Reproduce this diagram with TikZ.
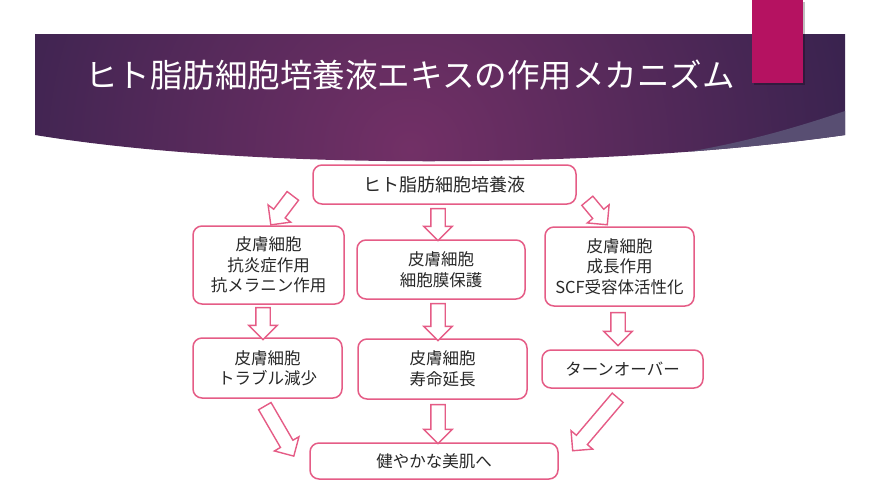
\documentclass[tikz,border=0pt]{standalone}
\usepackage{fontspec}
\setmainfont{Noto Sans CJK JP}
\usetikzlibrary{shapes.arrows,calc}

\definecolor{boxpink}{RGB}{229,92,134}
\definecolor{bandinner}{RGB}{114,48,102}
\definecolor{bandouter}{RGB}{36,30,70}
\definecolor{sliverpurple}{RGB}{88,78,114}
\definecolor{tabmagenta}{RGB}{181,18,97}
\definecolor{textgray}{RGB}{40,40,40}

% hollow block arrow from one point to another.
\newcommand{\blockarrow}[2]{%
  \path let \p1=(#1), \p2=(#2), \n1={atan2(\y2-\y1,\x2-\x1)},
    \n2={veclen(\x2-\x1,\y2-\y1)} in
    node[hollowarrow, minimum height=\n2, rotate=\n1] at ($(\p1)!0.5!(\p2)$) {};}

\begin{document}
\begin{tikzpicture}[x=1pt, y=-1pt,
    stepbox/.style={draw=boxpink, line width=1.5pt, rounded corners=9pt, fill=white,
        text=textgray, align=center, inner sep=0pt, outer sep=0pt,
        font=\fontsize{16.5}{20.5}\selectfont},
    hollowarrow/.style={single arrow, draw=boxpink, fill=white, line width=1.4pt,
        inner xsep=0pt, inner ysep=6.5pt, outer sep=0pt,
        single arrow head extend=7pt, single arrow tip angle=90}]
    \useasboundingbox (0,0) rectangle (880,496);
    % title band.
    \begin{scope}
        \clip (35,34) -- (845,34) -- (845,135)
            .. controls (600,170) and (250,170) .. (35,135) -- cycle;
        \shade[inner color=bandinner, outer color=bandouter] (410,150) circle (620);
        \fill[sliverpurple] (845,111) .. controls (760,140) and (690,155) .. (600,163)
            -- (600,180) -- (845,180) -- cycle;
    \end{scope}
    % magenta tab.
    \fill[black, opacity=0.25] (754,2) rectangle (805,85);
    \fill[tabmagenta] (752,0) rectangle (803,83);
    % title.
    \node[text=white, font=\fontsize{32.5}{36}\selectfont] (title) at (410,75)
        {ヒト脂肪細胞培養液エキスの作用メカニズム};
    % first row.
    \node[stepbox, minimum width=263pt, minimum height=39pt,
        font=\fontsize{18}{22}\selectfont] (top) at (444.5,184.5) {ヒト脂肪細胞培養液};
    \node[stepbox, minimum width=151pt, minimum height=78pt] (left1) at (268.5,265)
        {皮膚細胞\\抗炎症作用\\抗メラニン作用};
    \node[stepbox, minimum width=168pt, minimum height=59pt] (mid1) at (441,269.5)
        {皮膚細胞\\細胞膜保護};
    \node[stepbox, minimum width=149pt, minimum height=79pt] (right1) at (619.5,266.5)
        {皮膚細胞\\成長作用\\SCF受容体活性化};
    % second row.
    \node[stepbox, minimum width=149pt, minimum height=60pt] (left2) at (267.5,368)
        {皮膚細胞\\トラブル減少};
    \node[stepbox, minimum width=169pt, minimum height=60pt] (mid2) at (442.5,369)
        {皮膚細胞\\寿命延長};
    \node[stepbox, minimum width=161pt, minimum height=38pt] (right2) at (622.5,369)
        {ターンオーバー};
    % result.
    \node[stepbox, minimum width=248pt, minimum height=36pt] (bottom) at (434,461)
        {健やかな美肌へ};
    % arrows.
    \blockarrow{$(top.south west)+(-18,-11)$}{$(left1.north)+(4.5,-4)$}
    \blockarrow{$(top.south)+(-6.5,1)$}{$(mid1.north)+(-3,-3)$}
    \blockarrow{$(top.south east)+(9,-6)$}{$(right1.north)+(-14.5,-5)$}
    \blockarrow{$(left1.south)+(-5.5,0)$}{$(left2.north)+(-4.5,-2)$}
    \blockarrow{$(mid1.south)+(-3,1)$}{$(mid2.north)+(-4.5,-2)$}
    \blockarrow{$(right1.south)+(-1.5,3)$}{$(right2.north)+(-4.5,-8)$}
    \blockarrow{$(left2.south)+(-4.5,5)$}{$(bottom.west)+(-18,-8)$}
    \blockarrow{$(mid2.south)+(-4.5,2)$}{$(bottom.north)+(4,-3)$}
    \blockarrow{$(right2.south)+(-2.5,7)$}{$(bottom.east)+(17,-13)$}
\end{tikzpicture}
\end{document}
